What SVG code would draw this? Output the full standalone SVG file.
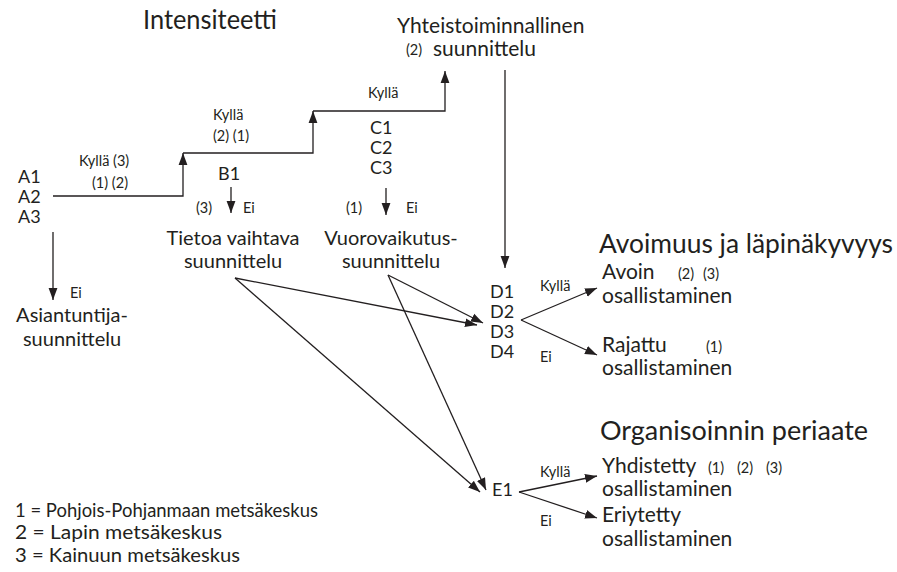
<svg xmlns="http://www.w3.org/2000/svg" width="897" height="572" viewBox="0 0 897 572">
<style>
text{font-family:Lato,"Noto Sans","Liberation Sans",sans-serif;fill:#231f20}
.t{font-size:26.5px}
.n{font-size:21px}
.m{font-size:20px}
.k{font-size:18px}
.l{font-size:19.5px}
.s{font-size:14.5px}
.c{stroke:#231f20;stroke-width:1.3;fill:none}
</style>
<defs>
<marker id="ah" viewBox="0 0 12 10" refX="12" refY="5" markerWidth="12" markerHeight="10" markerUnits="userSpaceOnUse" orient="auto">
<path d="M0,0.6 L12,5 L0,9.4 Z" fill="#231f20"/>
</marker>
</defs>
<rect width="897" height="572" fill="#fff"/>
<g id="titles">
<text class="t" x="143" y="29" textLength="134" lengthAdjust="spacingAndGlyphs">Intensiteetti</text>
<text class="t" x="599" y="253" textLength="294" lengthAdjust="spacingAndGlyphs">Avoimuus ja läpinäkyvyys</text>
<text class="t" x="600" y="440" textLength="268" lengthAdjust="spacingAndGlyphs">Organisoinnin periaate</text>
</g>
<g id="nodeA">
<text class="k" x="18" y="183">A1</text>
<text class="k" x="18" y="203">A2</text>
<text class="k" x="18" y="223">A3</text>
</g>
<g id="nodeB">
<text class="k" x="218" y="180">B1</text>
</g>
<g id="nodeC">
<text class="k" x="370" y="134">C1</text>
<text class="k" x="370" y="154">C2</text>
<text class="k" x="370" y="174">C3</text>
</g>
<g id="nodeYhteis">
<text class="n" x="397" y="33">Yhteistoiminnallinen</text>
<text class="s" x="406" y="55">(2)</text>
<text class="n" x="433" y="56">suunnittelu</text>
</g>
<g id="nodeAsiantuntija">
<text class="m" x="72" y="322" text-anchor="middle">Asiantuntija-</text>
<text class="m" x="72" y="346" text-anchor="middle">suunnittelu</text>
</g>
<g id="nodeTietoa">
<text class="m" x="233" y="245" text-anchor="middle">Tietoa vaihtava</text>
<text class="m" x="233" y="268" text-anchor="middle">suunnittelu</text>
</g>
<g id="nodeVuoro">
<text class="m" x="391" y="245" text-anchor="middle">Vuorovaikutus-</text>
<text class="m" x="391" y="268" text-anchor="middle">suunnittelu</text>
</g>
<g id="nodeD">
<text class="k" x="490" y="298">D1</text>
<text class="k" x="490" y="318">D2</text>
<text class="k" x="490" y="338">D3</text>
<text class="k" x="490" y="358">D4</text>
</g>
<g id="nodeAvoin">
<text class="n" x="602" y="279">Avoin</text>
<text class="s" x="678" y="279">(2)</text>
<text class="s" x="703" y="279">(3)</text>
<text class="n" x="602" y="303">osallistaminen</text>
</g>
<g id="nodeRajattu">
<text class="n" x="602" y="352">Rajattu</text>
<text class="s" x="706" y="352">(1)</text>
<text class="n" x="602" y="375">osallistaminen</text>
</g>
<g id="nodeE">
<text class="k" x="492" y="496">E1</text>
</g>
<g id="nodeYhdistetty">
<text class="n" x="602" y="473">Yhdistetty</text>
<text class="s" x="708" y="473">(1)</text>
<text class="s" x="737" y="473">(2)</text>
<text class="s" x="766" y="473">(3)</text>
<text class="n" x="602" y="496">osallistaminen</text>
</g>
<g id="nodeEriytetty">
<text class="n" x="602" y="522">Eriytetty</text>
<text class="n" x="602" y="546">osallistaminen</text>
</g>
<g id="legend">
<text class="l" x="15" y="517" textLength="303" lengthAdjust="spacingAndGlyphs">1 = Pohjois-Pohjanmaan metsäkeskus</text>
<text class="l" x="15" y="539" textLength="207" lengthAdjust="spacingAndGlyphs">2 = Lapin metsäkeskus</text>
<text class="l" x="15" y="562" textLength="225" lengthAdjust="spacingAndGlyphs">3 = Kainuun metsäkeskus</text>
</g>
<g id="connectors">
<path class="c" d="M53,196 H183 V153" marker-end="url(#ah)"/>
<path class="c" d="M183,153 H313 V111" marker-end="url(#ah)"/>
<path class="c" d="M313,111 H445 V71" marker-end="url(#ah)"/>
<path class="c" d="M231,187 V213" marker-end="url(#ah)"/>
<path class="c" d="M386,188 V215" marker-end="url(#ah)"/>
<path class="c" d="M53,232 V300" marker-end="url(#ah)"/>
<path class="c" d="M505,70 V268" marker-end="url(#ah)"/>
<path class="c" d="M235,278 L477,325" marker-end="url(#ah)"/>
<path class="c" d="M235,278 L480,492" marker-end="url(#ah)"/>
<path class="c" d="M388,275 L483,323" marker-end="url(#ah)"/>
<path class="c" d="M388,275 L486,490" marker-end="url(#ah)"/>
<path class="c" d="M521,320 L597,288" marker-end="url(#ah)"/>
<path class="c" d="M521,320 L597,355" marker-end="url(#ah)"/>
<path class="c" d="M519,492 L597,476" marker-end="url(#ah)"/>
<path class="c" d="M519,492 L597,518" marker-end="url(#ah)"/>
</g>
<g id="labels">
<text class="s" x="79" y="166">Kyllä (3)</text>
<text class="s" x="92" y="188">(1) (2)</text>
<text class="s" x="213" y="120">Kyllä</text>
<text class="s" x="213" y="141">(2) (1)</text>
<text class="s" x="196" y="213">(3)</text>
<text class="s" x="243" y="213">Ei</text>
<text class="s" x="368" y="98">Kyllä</text>
<text class="s" x="346" y="213">(1)</text>
<text class="s" x="406" y="213">Ei</text>
<text class="s" x="70" y="298">Ei</text>
<text class="s" x="540" y="291">Kyllä</text>
<text class="s" x="540" y="362">Ei</text>
<text class="s" x="540" y="477">Kyllä</text>
<text class="s" x="540" y="526">Ei</text>
</g>
</svg>
